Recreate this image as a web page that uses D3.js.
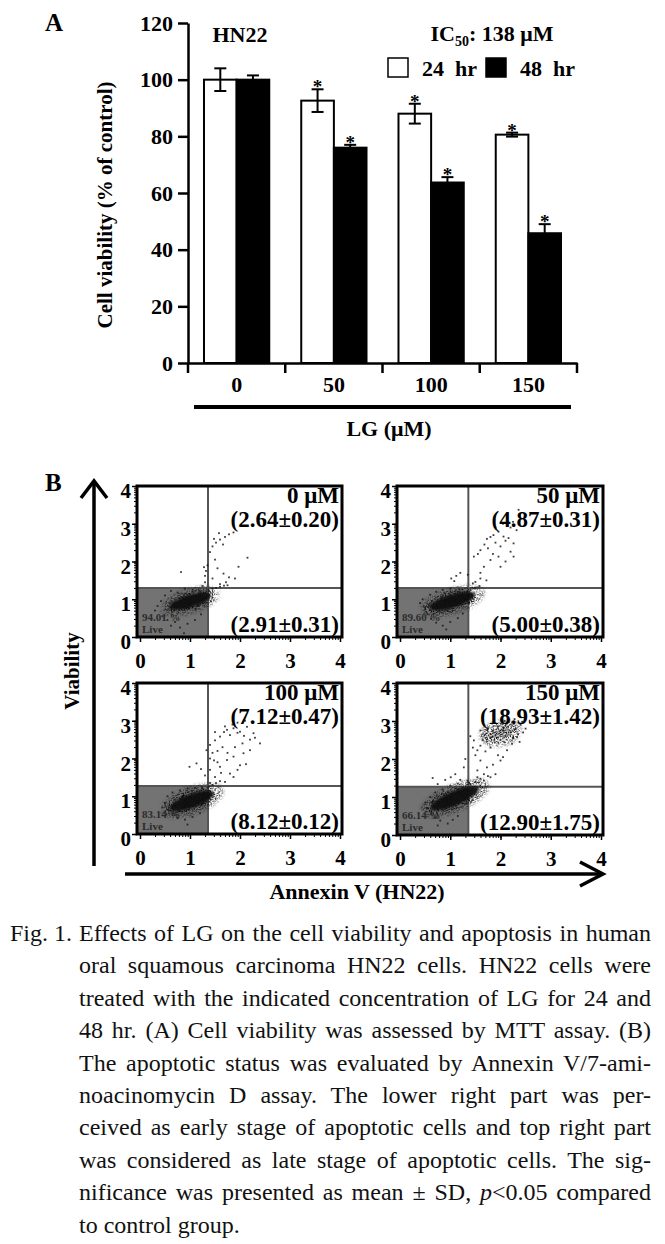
<!DOCTYPE html>
<html>
<head>
<meta charset="utf-8">
<script src="https://cdn.jsdelivr.net/npm/d3@7"></script>
<style>
    body { margin: 0; background: #fff; }
    svg text { font-family: "Liberation Serif", "Times New Roman", serif; }
</style>
</head>
<body>
<script>
// ---- Panel A: MTT viability ----
var doses = ['0', '50', '100', '150'];
var series = ['24 hr', '48 hr'];
var viability24 = [100, 92.6, 88, 80.6];
var sd24 = [4, 4, 3.5, 0.7];
var viability48 = [100, 76, 63.7, 45.8];
var sd48 = [1.5, 1, 1.9, 3.2];
var significant24 = [false, true, true, true];
var significant48 = [false, true, true, true];
var yTicks = [0, 20, 40, 60, 80, 100, 120];

// ---- Panel B: Annexin V / 7-AAD flow plots ----
var flowLabels = ['0 μM', '50 μM', '100 μM', '150 μM'];
var lateApoptotic = ['(2.64±0.20)', '(4.87±0.31)', '(7.12±0.47)', '(18.93±1.42)'];
var earlyApoptotic = ['(2.91±0.31)', '(5.00±0.38)', '(8.12±0.12)', '(12.90±1.75)'];
var livePercent = ['94.01 %', '89.60 %', '83.14 %', '66.14 %'];
var gateX = [1.36, 1.36, 1.36, 1.36];
var gateY = [1.3, 1.3, 1.27, 1.27];
var flowTicks = [0, 1, 2, 3, 4];

// dense live-cell population of each plot (log decades)
var cores = [
    { cx: 1.0, cy: 0.95, rx: 0.48, ry: 0.19, angle: -17 },
    { cx: 1.04, cy: 0.95, rx: 0.52, ry: 0.2, angle: -17 },
    { cx: 1.04, cy: 0.88, rx: 0.52, ry: 0.21, angle: -20 },
    { cx: 1.09, cy: 0.97, rx: 0.58, ry: 0.21, angle: -23 }
];
var lateClusters = [null, null, null, { cx: 2.0, cy: 2.68, rx: 0.33, ry: 0.2, angle: -12 }];

// scattered events
var events0 = [[0.35,0.82],[0.42,0.95],[0.3,0.7],[0.45,0.55],[0.55,0.45],[0.62,0.3],[0.7,0.4],[0.8,0.25],[0.95,0.35],[1.1,0.45],[1.22,0.6],[0.88,0.1],
    [0.5,1.1],[0.62,1.22],[0.75,1.18],[0.9,1.28],[1.05,1.25],[1.2,1.2],[1.3,1.1],[1.38,1.22],[1.45,1.28],[1.52,1.3],[1.6,1.33],[1.68,1.36],[1.75,1.37],[1.25,1.35],[1.3,1.45],
    [1.3,1.62],[1.32,1.75],[1.28,1.85],[1.35,1.9],[0.82,1.72],
    [1.4,2.25],[1.45,2.4],[1.52,2.5],[1.6,2.58],[1.7,2.65],[1.78,2.72],[1.87,2.77],[1.58,2.75],[1.66,2.45],[1.48,2.6],
    [1.5,2.05],[1.55,1.82],[1.67,1.68],[1.78,1.58],[1.9,1.55],[1.97,1.86],[2.15,2.1],[1.72,1.45],[1.6,1.4],[1.45,1.55]];
var events50 = [[0.4,0.9],[0.5,0.78],[0.45,1.0],[0.55,0.6],[0.62,0.48],[0.72,0.38],[0.85,0.3],[1.0,0.4],[0.92,0.2],[1.15,0.5],[1.25,0.62],
    [0.6,1.12],[0.72,1.2],[0.85,1.25],[1.0,1.28],[1.15,1.2],[1.3,1.15],[1.4,1.25],[1.5,1.3],[1.58,1.35],[1.45,1.42],
    [1.02,1.55],[1.12,1.62],[1.2,1.7],[1.35,1.65],[1.08,1.48],
    [1.5,1.46],[1.6,1.55],[1.67,1.86],[1.8,2.04],[1.96,2.13],[2.0,1.86],[2.1,2.0],[2.26,2.13],[2.2,2.26],[1.47,2.13],[1.55,2.2],[1.6,2.3],[1.68,2.45],[1.73,2.6],
    [1.8,2.65],[1.86,2.7],[1.96,2.79],[2.06,2.66],[2.16,2.62],[2.26,2.48],[2.32,2.83],[2.36,3.37],[1.9,2.5],[2.0,2.4],[2.1,2.55],[1.75,2.35],[1.85,2.2],
    [1.6,1.7],[1.72,1.5],[1.9,2.9],[2.2,2.9],[2.25,3.05],[2.05,3.0]];
var events100 = [[0.5,0.82],[0.45,0.7],[0.58,0.62],[0.65,0.5],[0.75,0.42],[0.9,0.38],[0.95,0.25],[1.05,0.45],[1.2,0.55],[0.55,1.0],[0.65,1.1],[0.8,1.15],[0.95,1.2],
    [1.1,1.22],[1.25,1.2],[1.38,1.25],[1.45,1.3],[1.52,1.35],[1.6,1.4],[1.7,1.38],
    [0.99,1.78],[1.13,1.87],[1.22,1.72],[1.3,1.55],
    [1.4,1.35],[1.5,1.51],[1.6,1.78],[1.74,1.96],[1.87,2.05],[2.07,2.14],[2.2,2.22],[2.4,2.4],[1.8,1.6],[1.87,1.51],[2.0,1.82],[2.12,1.85],[1.95,1.7],
    [1.4,2.0],[1.45,2.15],[1.33,2.22],[1.4,2.36],[1.5,2.48],[1.6,2.58],[1.68,2.7],[1.74,2.76],[1.8,2.62],[1.87,2.8],[1.95,2.68],[2.0,2.71],[2.08,2.6],
    [2.14,2.84],[2.27,2.67],[2.2,2.5],[1.65,2.3],[1.55,2.2],[1.75,2.15],[1.9,2.3],[2.05,2.4],[1.62,1.62],[1.55,1.9],[2.3,2.55],[1.85,2.9],[1.7,2.85],
    [1.95,2.95],[2.1,3.0],[1.5,2.7],[1.4,1.7],[1.48,1.95]];
var events150 = [[0.5,0.85],[0.55,0.7],[0.62,0.55],[0.7,0.45],[0.8,0.38],[0.95,0.3],[1.05,0.4],[1.15,0.5],[0.75,0.25],[0.6,1.0],[0.7,1.12],[0.85,1.2],
    [1.0,1.3],[1.15,1.35],[0.75,1.34],[1.01,1.52],[1.1,1.6],[0.9,1.45],[0.65,1.5],[1.27,1.78],[1.3,2.0],[1.2,1.45],
    [1.34,1.43],[1.4,1.34],[1.5,1.4],[1.54,1.52],[1.6,1.48],[1.67,1.6],[1.67,1.43],[1.75,1.55],[1.8,1.52],[1.9,1.6],[1.54,1.7],[1.6,1.96],[1.73,1.78],
    [2.0,1.96],[2.13,2.23],[2.23,2.4],[2.33,2.58],[2.43,2.98],[1.85,1.85],[1.95,2.1],[2.05,2.05],[1.47,2.49],[1.54,2.23],[1.5,2.1],[1.45,2.3],[1.4,2.6],
    [1.6,2.35],[1.7,2.2],[1.8,2.3],
    [1.65,2.5],[1.7,2.65],[1.75,2.8],[1.8,2.55],[1.85,2.75],[1.9,2.62],[1.95,2.85],[2.0,2.5],[2.05,2.75],[2.1,2.6],[2.15,2.85],[2.2,2.7],[2.25,2.55],
    [2.3,2.8],[2.35,2.65],[2.4,2.9],[1.88,2.95],[2.08,3.0],[2.28,3.05],[1.6,2.75],[2.45,2.7],[2.38,2.45],[2.5,2.8]];
var flowEvents = [events0, events50, events100, events150];

var captionLead = 'Fig. 1.';
var captionLines = [
    'Effects of LG on the cell viability and apoptosis in human',
    'oral squamous carcinoma HN22 cells. HN22 cells were',
    'treated with the indicated concentration of LG for 24 and',
    '48 hr. (A) Cell viability was assessed by MTT assay. (B)',
    'The apoptotic status was evaluated by Annexin V/7-ami-',
    'noacinomycin D assay. The lower right part was per-',
    'ceived as early stage of apoptotic cells and top right part',
    'was considered as late stage of apoptotic cells. The sig-',
    'nificance was presented as mean ± SD, |p|<0.05 compared',
    'to control group.'
];

var SERIF = '"Liberation Serif", "Times New Roman", serif';
var SANS = '"Liberation Sans", Arial, sans-serif';

var svg = d3.select('body').append('svg')
    .attr('width', 665)
    .attr('height', 1244);

var defs = svg.append('defs');
var blur = defs.append('filter').attr('id', 'blur')
    .attr('x', '-50%').attr('y', '-50%').attr('width', '200%').attr('height', '200%');
blur.append('feGaussianBlur').attr('stdDeviation', 1.1);

// grainy halo so the population edge looks like single events
var grain = defs.append('filter').attr('id', 'grain')
    .attr('x', '-50%').attr('y', '-50%').attr('width', '200%').attr('height', '200%');
grain.append('feGaussianBlur').attr('in', 'SourceGraphic').attr('stdDeviation', 2.2).attr('result', 'soft');
grain.append('feTurbulence').attr('type', 'fractalNoise').attr('baseFrequency', 0.95)
    .attr('numOctaves', 2).attr('seed', 7).attr('result', 'noise');
grain.append('feColorMatrix').attr('in', 'noise').attr('type', 'matrix')
    .attr('values', '0 0 0 0 0  0 0 0 0 0  0 0 0 0 0  0 0 0 9 -4.4').attr('result', 'dots');
grain.append('feComposite').attr('in', 'soft').attr('in2', 'dots').attr('operator', 'in');

// ================= Panel A =================
svg.append('text').attr('x', 45).attr('y', 31)
    .attr('font-family', SANS).attr('font-weight', 'bold').attr('font-size', 25)
    .text('A');

var yA = d3.scaleLinear().domain([0, 120]).range([363, 23]);
var xA = d3.scaleBand().domain(doses).range([188, 577]);
var xInner = d3.scaleBand().domain(series).range([0, xA.bandwidth()]).paddingOuter(0.49);

var bars = [];
doses.forEach(function (dose, i) {
    bars.push({ dose: dose, s: series[0], v: viability24[i], sd: sd24[i], sig: significant24[i] });
    bars.push({ dose: dose, s: series[1], v: viability48[i], sd: sd48[i], sig: significant48[i] });
});

var barG = svg.append('g').attr('class', 'bars');
barG.selectAll('rect').data(bars).enter().append('rect')
    .attr('x', d => xA(d.dose) + xInner(d.s))
    .attr('width', xInner.bandwidth())
    .attr('y', d => yA(d.v))
    .attr('height', d => yA(0) - yA(d.v))
    .attr('fill', d => d.s === series[0] ? '#fff' : '#000')
    .attr('stroke', '#000')
    .attr('stroke-width', 2);

var errG = svg.append('g').attr('class', 'errors')
    .attr('stroke', '#000').attr('stroke-width', 2);
bars.forEach(function (d) {
    var cx = xA(d.dose) + xInner(d.s) + xInner.bandwidth() / 2;
    errG.append('line').attr('x1', cx).attr('x2', cx).attr('y1', yA(d.v - d.sd)).attr('y2', yA(d.v + d.sd));
    [d.v - d.sd, d.v + d.sd].forEach(function (e) {
        errG.append('line').attr('x1', cx - 6).attr('x2', cx + 6).attr('y1', yA(e)).attr('y2', yA(e));
    });
    if (d.sig) {
        svg.append('text').attr('x', cx).attr('y', yA(d.v + d.sd) + 4)
            .attr('text-anchor', 'middle').attr('font-weight', 'bold').attr('font-size', 19)
            .text('*');
    }
});

function styleAxis(g, size) {
    g.attr('font-family', SERIF).attr('font-size', size).attr('font-weight', 'bold');
    g.select('.domain').attr('stroke-width', 2.5);
    g.selectAll('.tick line').attr('stroke-width', 2.5);
}

svg.append('g').attr('transform', 'translate(188,0)')
    .call(d3.axisLeft(yA).tickValues(yTicks).tickSize(10).tickSizeOuter(0).tickPadding(5))
    .call(g => styleAxis(g, 22));

var xAxisG = svg.append('g').attr('transform', 'translate(0,363)')
    .call(d3.axisBottom(xA).tickSize(0).tickSizeOuter(0).tickPadding(13))
    .call(g => styleAxis(g, 22));
// group separators hang below the axis
xAxisG.selectAll('.sep').data(doses.map(d => xA(d)).concat([xA.range()[1]]))
    .enter().append('line').attr('class', 'sep')
    .attr('x1', d => d).attr('x2', d => d).attr('y1', 0).attr('y2', 10)
    .attr('stroke', '#000').attr('stroke-width', 2.5);

svg.append('line').attr('x1', 194).attr('x2', 571).attr('y1', 407).attr('y2', 407)
    .attr('stroke', '#000').attr('stroke-width', 4);
svg.append('text').attr('x', 389).attr('y', 436).attr('text-anchor', 'middle')
    .attr('font-weight', 'bold').attr('font-size', 22).text('LG (μM)');

svg.append('text').attr('transform', 'translate(112,205) rotate(-90)')
    .attr('text-anchor', 'middle').attr('font-weight', 'bold').attr('font-size', 21)
    .text('Cell viability (% of control)');

svg.append('text').attr('x', 240).attr('y', 42).attr('text-anchor', 'middle')
    .attr('font-weight', 'bold').attr('font-size', 22).text('HN22');

var ic = svg.append('text').attr('x', 492).attr('y', 41).attr('text-anchor', 'middle')
    .attr('font-weight', 'bold').attr('font-size', 22);
ic.append('tspan').text('IC');
ic.append('tspan').attr('font-size', 14).attr('dy', 5).text('50');
ic.append('tspan').attr('dy', -5).text(': 138 μM');

// legend
var legendX = [388, 486];
series.forEach(function (s, i) {
    svg.append('rect').attr('x', legendX[i]).attr('y', 58).attr('width', 20).attr('height', 19)
        .attr('fill', i === 0 ? '#fff' : '#000').attr('stroke', '#000').attr('stroke-width', 1.5);
    svg.append('text').attr('x', legendX[i] + 34).attr('y', 76)
        .attr('font-weight', 'bold').attr('font-size', 22).style('white-space', 'pre')
        .text(s.replace(' ', '  '));
});

// ================= Panel B =================
svg.append('text').attr('x', 45).attr('y', 491)
    .attr('font-family', SANS).attr('font-weight', 'bold').attr('font-size', 25)
    .text('B');

var flowBoxes = [[137, 342, 486, 637], [397, 603, 486, 637], [137, 342, 683, 834], [397, 603, 683, 835]];

flowLabels.forEach(function (label, i) {
    var b = flowBoxes[i];
    var xF = d3.scaleLinear().domain([0, 4]).range([b[0] + 3, b[1] - 2]);
    var yF = d3.scaleLinear().domain([0, 4]).range([b[3], b[2]]);
    var xLog = d3.scaleLog().domain([1, 1e4]).range(xF.range());
    var yLog = d3.scaleLog().domain([1, 1e4]).range(yF.range());
    var g = svg.append('g').attr('class', 'flow');

    // live gate (lower-left quadrant)
    g.append('rect').attr('x', b[0]).attr('y', yF(gateY[i]))
        .attr('width', xF(gateX[i]) - b[0]).attr('height', b[3] - yF(gateY[i]))
        .attr('fill', '#737373');

    // quadrant lines
    g.append('line').attr('x1', xF(gateX[i])).attr('x2', xF(gateX[i])).attr('y1', b[2]).attr('y2', b[3])
        .attr('stroke', '#555').attr('stroke-width', 2);
    g.append('line').attr('x1', b[0]).attr('x2', b[1]).attr('y1', yF(gateY[i])).attr('y2', yF(gateY[i]))
        .attr('stroke', '#555').attr('stroke-width', 2);

    // populations
    var pops = [cores[i], lateClusters[i]].filter(p => p);
    pops.forEach(function (p, k) {
        var cx = xF(p.cx), cy = yF(p.cy);
        var rx = xF(p.cx + p.rx) - cx, ry = cy - yF(p.cy + p.ry);
        var rot = 'rotate(' + p.angle + ',' + cx + ',' + cy + ')';
        g.append('ellipse').attr('cx', cx).attr('cy', cy).attr('rx', rx * 1.25).attr('ry', ry * 1.6)
            .attr('transform', rot).attr('fill', '#111').attr('filter', 'url(#grain)');
        g.append('ellipse').attr('cx', cx).attr('cy', cy).attr('rx', rx * (k === 0 ? 0.9 : 0.7)).attr('ry', ry * (k === 0 ? 0.9 : 0.6))
            .attr('transform', rot)
            .attr('fill', '#0a0a0a').attr('opacity', k === 0 ? 0.95 : 0.22).attr('filter', 'url(#blur)');
    });

    g.append('g').selectAll('rect').data(flowEvents[i]).enter().append('rect')
        .attr('x', d => xF(d[0]) - 0.9).attr('y', d => yF(d[1]) - 0.9)
        .attr('width', 1.8).attr('height', 1.8)
        .attr('fill', '#1a1a1a').attr('opacity', 0.85);

    // gate percentage
    g.append('text').attr('x', b[0] + 5).attr('y', b[3] - 16)
        .attr('font-family', SANS).attr('font-weight', 'bold').attr('font-size', 11)
        .attr('fill', '#2b2b2b').text(livePercent[i]);
    g.append('text').attr('x', b[0] + 5).attr('y', b[3] - 4)
        .attr('font-family', SANS).attr('font-weight', 'bold').attr('font-size', 11)
        .attr('fill', '#2b2b2b').text('Live');

    // quadrant values
    g.append('text').attr('x', b[1] - 3).attr('y', b[2] + 17).attr('text-anchor', 'end')
        .attr('font-weight', 'bold').attr('font-size', 23).text(label);
    g.append('text').attr('x', b[1] - 3).attr('y', b[2] + 41).attr('text-anchor', 'end')
        .attr('font-weight', 'bold').attr('font-size', 23).text(lateApoptotic[i]);
    g.append('text').attr('x', b[1] - 3).attr('y', b[3] - 5).attr('text-anchor', 'end')
        .attr('font-weight', 'bold').attr('font-size', 23).text(earlyApoptotic[i]);

    // frame
    g.append('rect').attr('x', b[0]).attr('y', b[2]).attr('width', b[1] - b[0]).attr('height', b[3] - b[2])
        .attr('fill', 'none').attr('stroke', '#000').attr('stroke-width', 3);

    // log minor ticks
    g.append('g').attr('transform', 'translate(' + b[0] + ',0)')
        .call(d3.axisLeft(yLog).tickValues(yLog.ticks()).tickFormat('').tickSize(3).tickSizeOuter(0))
        .call(a => a.select('.domain').remove());
    g.append('g').attr('transform', 'translate(0,' + b[3] + ')')
        .call(d3.axisBottom(xLog).tickValues(xLog.ticks()).tickFormat('').tickSize(3).tickSizeOuter(0))
        .call(a => a.select('.domain').remove());

    // major ticks and labels
    g.append('g').attr('transform', 'translate(' + b[0] + ',0)')
        .call(d3.axisLeft(yF).tickValues(flowTicks).tickFormat(d3.format('d')).tickSize(5).tickSizeOuter(0).tickPadding(1))
        .call(a => {
            a.select('.domain').remove();
            a.attr('font-family', SERIF).attr('font-size', 21).attr('font-weight', 'bold');
            a.selectAll('.tick line').attr('stroke-width', 1.5);
            a.selectAll('text').attr('dy', '0.55em');
        });
    g.append('g').attr('transform', 'translate(0,' + b[3] + ')')
        .call(d3.axisBottom(xF).tickValues(flowTicks).tickFormat(d3.format('d')).tickSize(5).tickSizeOuter(0).tickPadding(11))
        .call(a => {
            a.select('.domain').remove();
            a.attr('font-family', SERIF).attr('font-size', 21).attr('font-weight', 'bold');
            a.selectAll('.tick line').attr('stroke-width', 1.5);
        });
});

// axis arrows
var arrows = svg.append('g').attr('fill', 'none').attr('stroke', '#000').attr('stroke-width', 3.5);
arrows.append('line').attr('x1', 94).attr('x2', 94).attr('y1', 481).attr('y2', 866);
arrows.append('polyline').attr('points', '81,498 94,481 107,498').attr('stroke-linejoin', 'miter');
arrows.append('line').attr('x1', 125).attr('x2', 602).attr('y1', 874).attr('y2', 874);
arrows.append('polyline').attr('points', '580,862 603,874 580,886');

svg.append('text').attr('transform', 'translate(79,671) rotate(-90)')
    .attr('text-anchor', 'middle').attr('font-weight', 'bold').attr('font-size', 21)
    .text('Viability');
svg.append('text').attr('x', 357).attr('y', 899).attr('text-anchor', 'middle')
    .attr('font-weight', 'bold').attr('font-size', 22).text('Annexin V (HN22)');

// ================= Caption =================
var capLeft = 79, capRight = 651, capTop = 941, capStep = 32.4;
svg.append('text').attr('x', 10).attr('y', capTop).attr('font-size', 24).attr('fill', '#111').text(captionLead);

captionLines.forEach(function (line, i) {
    var t = svg.append('text').attr('x', capLeft).attr('y', capTop + i * capStep)
        .attr('font-size', 24).attr('fill', '#111');
    line.split('|').forEach(function (part, k) {
        t.append('tspan').attr('font-style', k % 2 ? 'italic' : null).text(part);
    });
    // justify all but the last line by widening the word gaps
    if (i < captionLines.length - 1) {
        var natural = t.node().getComputedTextLength();
        var gaps = line.split(' ').length - 1;
        t.attr('word-spacing', Math.max(0, (capRight - capLeft - natural) / gaps));
    }
});
</script>
</body>
</html>
